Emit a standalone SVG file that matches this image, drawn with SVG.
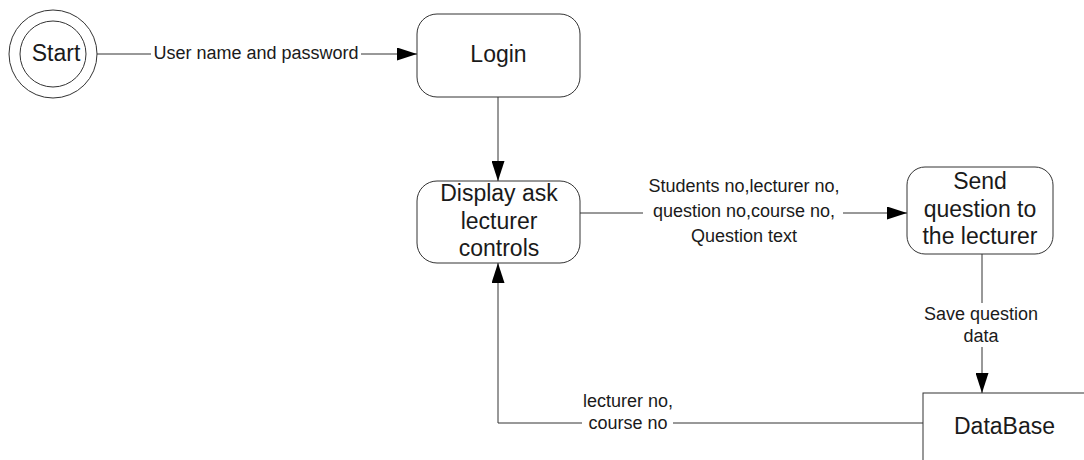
<svg xmlns="http://www.w3.org/2000/svg" width="1084" height="460" viewBox="0 0 1084 460">
  <style>
    .shape { fill: #ffffff; stroke: #333333; stroke-width: 1; }
    .edge { fill: none; stroke: #333333; stroke-width: 1; }
    .node-text { font-family: "Liberation Sans", Arial, sans-serif; font-size: 23px; fill: #1a1a1a; text-anchor: middle; }
    .edge-text { font-family: "Liberation Sans", Arial, sans-serif; font-size: 18px; fill: #1a1a1a; text-anchor: middle; }
  </style>
  <defs>
    <marker id="arrow" markerUnits="userSpaceOnUse" markerWidth="20" markerHeight="13" refX="20" refY="6.5" orient="auto">
      <path d="M0,0 L20,6.5 L0,13 Z" fill="#000000"/>
    </marker>
  </defs>
  <rect width="1084" height="460" fill="#ffffff"/>

  <!-- start state: double circle -->
  <g id="start">
    <circle class="shape" cx="53" cy="54" r="44"/>
    <circle class="shape" cx="53" cy="54" r="33"/>
    <text class="node-text" x="56" y="61">Start</text>
  </g>

  <g id="login">
    <rect class="shape" x="417" y="14" width="163" height="83" rx="20" ry="20"/>
    <text class="node-text" x="498.5" y="62">Login</text>
  </g>

  <g id="display-controls">
    <rect class="shape" x="417" y="181" width="163" height="82" rx="20" ry="20"/>
    <text class="node-text" x="499" y="201">Display ask</text>
    <text class="node-text" x="499" y="229">lecturer</text>
    <text class="node-text" x="499" y="256">controls</text>
  </g>

  <g id="send-question">
    <rect class="shape" x="907" y="167" width="146" height="87" rx="18" ry="18"/>
    <text class="node-text" x="980" y="189">Send</text>
    <text class="node-text" x="980" y="217">question to</text>
    <text class="node-text" x="980" y="244">the lecturer</text>
  </g>

  <!-- data store, open past the right and bottom edges -->
  <g id="database">
    <rect class="shape" x="923" y="393" width="200" height="100"/>
    <text class="node-text" x="1004.5" y="434">DataBase</text>
  </g>

  <g id="connectors">
    <!-- Start -> Login -->
    <line class="edge" x1="97" y1="54" x2="151" y2="54"/>
    <line class="edge" x1="361" y1="54" x2="417" y2="54" marker-end="url(#arrow)"/>
    <text class="edge-text" x="256" y="59">User name and password</text>

    <!-- Login -> Display -->
    <line class="edge" x1="498" y1="97" x2="498" y2="181" marker-end="url(#arrow)"/>

    <!-- Display -> Send -->
    <line class="edge" x1="580" y1="213" x2="643" y2="213"/>
    <line class="edge" x1="843" y1="213" x2="907" y2="213" marker-end="url(#arrow)"/>
    <text class="edge-text" x="744" y="192">Students no,lecturer no,</text>
    <text class="edge-text" x="744" y="217">question no,course no,</text>
    <text class="edge-text" x="744" y="242">Question text</text>

    <!-- Send -> DataBase -->
    <line class="edge" x1="982" y1="254" x2="982" y2="303"/>
    <line class="edge" x1="982" y1="347" x2="982" y2="393" marker-end="url(#arrow)"/>
    <text class="edge-text" x="981" y="320">Save question</text>
    <text class="edge-text" x="981" y="342">data</text>

    <!-- DataBase -> Display -->
    <line class="edge" x1="923" y1="423" x2="673" y2="423"/>
    <polyline class="edge" points="582,423 498,423 498,263" marker-end="url(#arrow)"/>
    <text class="edge-text" x="628" y="407">lecturer no,</text>
    <text class="edge-text" x="628" y="429">course no</text>
  </g>
</svg>
